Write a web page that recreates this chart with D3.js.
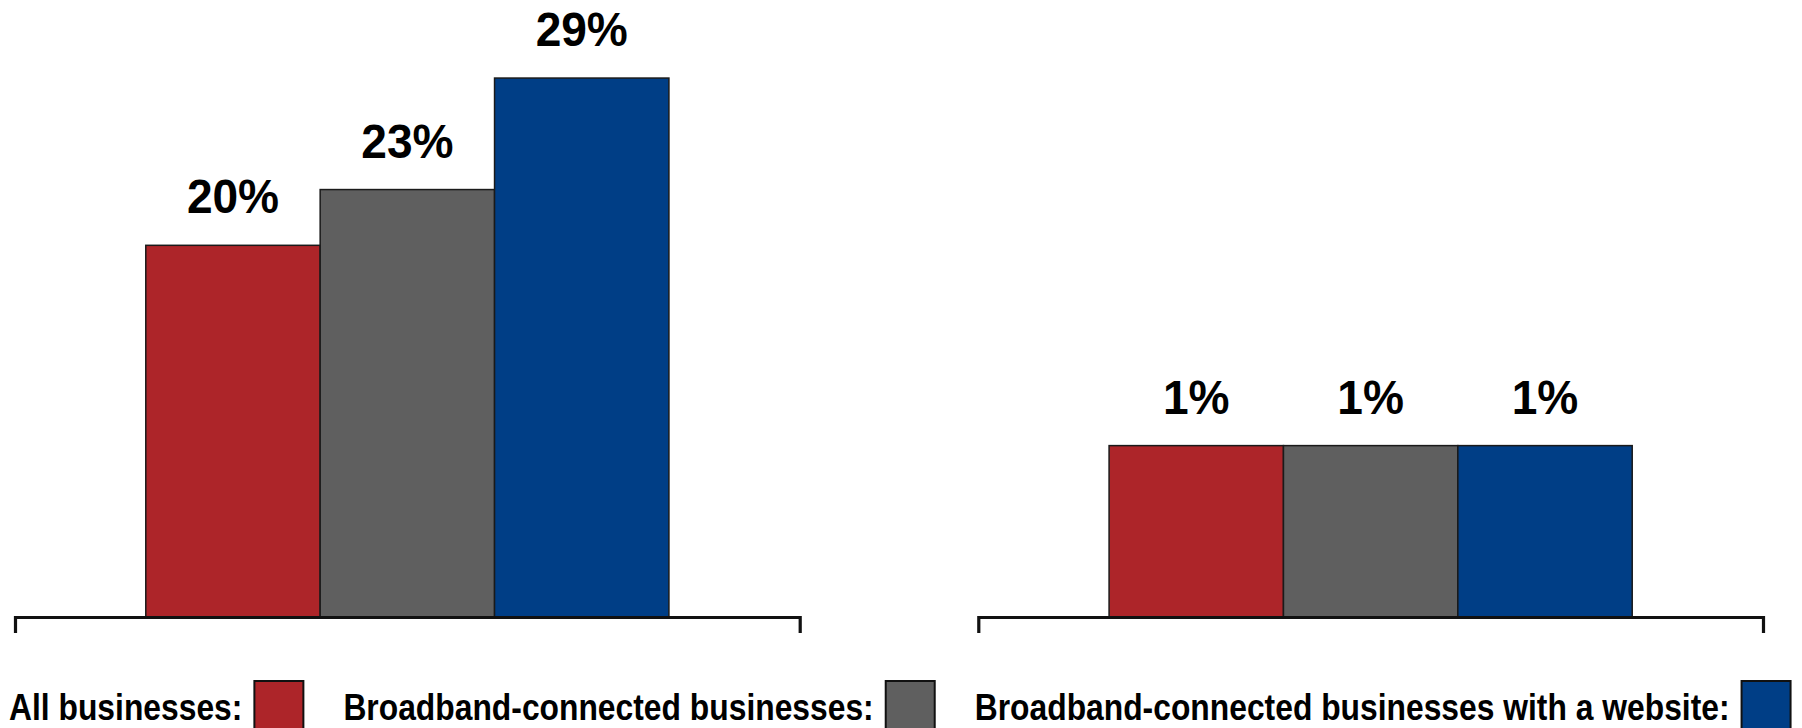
<!DOCTYPE html>
<html>
<head>
<meta charset="utf-8">
<script src="https://cdn.jsdelivr.net/npm/d3@7"></script>
<style>
  html, body { margin: 0; padding: 0; background: #fff; }
  svg { display: block; }
  text { font-family: "Liberation Sans", Arial, sans-serif; font-weight: bold; fill: #000; }
</style>
</head>
<body>
<svg id="chart" width="1802" height="728"></svg>
<script>
// ---- data ----
const categories = ["Panel A", "Panel B"];
const seriesNames = ["All businesses:", "Broadband-connected businesses:", "Broadband-connected businesses with a website:"];
const seriesColors = ["#AD2529", "#5F5F5F", "#003E86"];
const valuesPanelA = [20, 23, 29];
const valuesPanelB = [1, 1, 1];
const valueLabelsA = ["20%", "23%", "29%"];
const valueLabelsB = ["1%", "1%", "1%"];
const yMaxPerPanel = [33.2, 3.6];

const panelValues = [valuesPanelA, valuesPanelB];
const panelLabels = [valueLabelsA, valueLabelsB];

// ---- layout ----
const W = 1802, H = 728;
const axisY = 617;
const svg = d3.select("#chart");

const x0 = d3.scaleBand().domain(categories).range([15, 1763]).paddingInner(0.1854).paddingOuter(0);
const x1 = d3.scaleBand().domain(seriesNames).range([0, x0.bandwidth()]).paddingInner(0).paddingOuter(0.75);

categories.forEach((cat, ci) => {
  const y = d3.scaleLinear().domain([0, yMaxPerPanel[ci]]).range([axisY, 0]);
  const g = svg.append("g").attr("transform", `translate(${x0(cat)},0)`);
  const rows = seriesNames.map((s, si) => ({ s, v: panelValues[ci][si], label: panelLabels[ci][si], color: seriesColors[si] }));

  g.selectAll("rect.bar").data(rows).join("rect")
    .attr("class", "bar")
    .attr("x", d => x1(d.s))
    .attr("y", d => y(d.v))
    .attr("width", x1.bandwidth())
    .attr("height", d => y(0) - y(d.v))
    .attr("fill", d => d.color)
    .attr("stroke", "#1a1a1a")
    .attr("stroke-width", 1.5);

  g.selectAll("text.val").data(rows).join("text")
    .attr("class", "val")
    .attr("transform", d => `translate(${x1(d.s) + x1.bandwidth() / 2},${y(d.v) - 32}) scale(0.96,1)`)
    .attr("text-anchor", "middle")
    .attr("font-size", 48)
    .text(d => d.label);

  // axis line with end ticks
  const xa = d3.scaleLinear().range([0, x0.bandwidth()]);
  const axis = d3.axisBottom(xa).tickValues([]).tickSizeOuter(16);
  const ag = g.append("g").attr("transform", `translate(0,${axisY})`).call(axis);
  ag.select(".domain").attr("stroke", "#111").attr("stroke-width", 3.2).attr("fill", "none");
});

// ---- legend ----
const legend = svg.append("g");
let lx = 9;
const legendBaseline = 720;
const legendScale = 0.86;
seriesNames.forEach((name, i) => {
  const t = legend.append("text")
    .attr("transform", `translate(${lx},${legendBaseline}) scale(${legendScale},1)`)
    .attr("font-size", 37)
    .text(name);
  const w = t.node().getComputedTextLength() * legendScale;
  const bx = lx + w + 12;
  legend.append("rect")
    .attr("x", bx).attr("y", 681)
    .attr("width", 49).attr("height", 52)
    .attr("fill", seriesColors[i])
    .attr("stroke", "#111")
    .attr("stroke-width", 2);
  lx = bx + 49 + 40;
});
</script>
</body>
</html>
